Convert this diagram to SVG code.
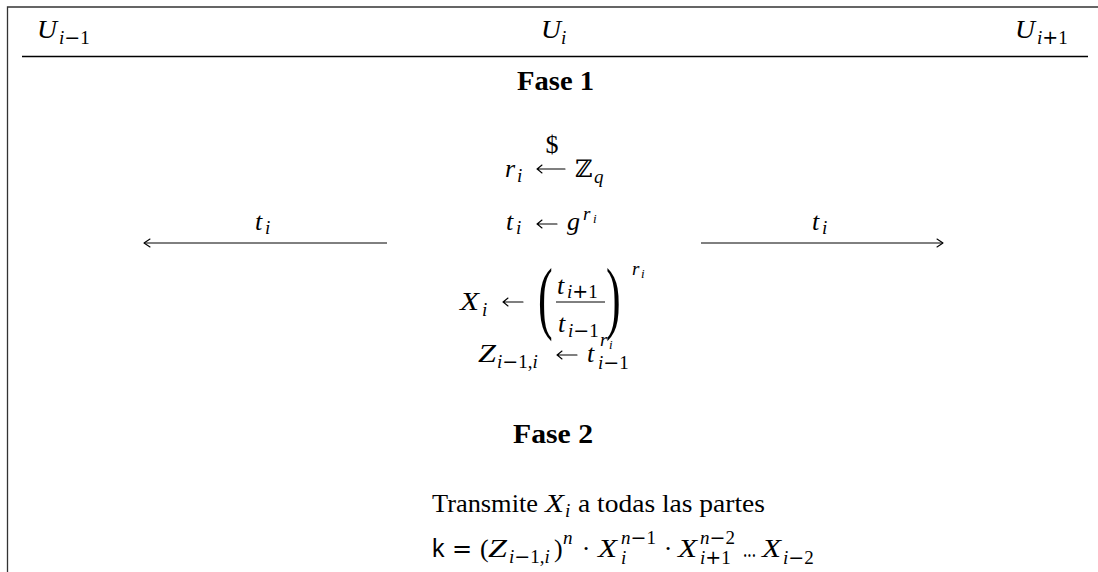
<svg xmlns="http://www.w3.org/2000/svg" width="1098" height="572" viewBox="0 0 1098 572">
<style>
text{fill:#000}
.m{font-family:"Liberation Serif",serif;font-style:italic;font-size:26px}
.s{font-size:19px}
.ss{font-size:13px}
.up{font-style:normal}
.op{font-family:"DejaVu Sans",sans-serif;font-style:normal}
.b{font-family:"Liberation Serif",serif;font-weight:bold;font-size:27px}
.t{font-family:"Liberation Serif",serif;font-size:25px}
.sf{font-family:"Liberation Sans",sans-serif;font-size:25px}
.frame{stroke:#333;stroke-width:1.3;fill:none}
.rule{stroke:#000;stroke-width:1.5}
.msg{stroke:#000;stroke-width:1;fill:none}
.arw{stroke:#000;stroke-width:1.1;fill:none;stroke-linecap:round;stroke-linejoin:round}
</style>
<defs>
<marker id="hd" viewBox="-8 -5 10 10" refX="0" refY="0" markerWidth="10" markerHeight="10" markerUnits="userSpaceOnUse" orient="auto">
<path d="M-6,-4 Q-1.5,-1 0,0 Q-1.5,1 -6,4" class="arw"/>
</marker>
</defs>
<g id="frame">
<path class="frame" d="M7.5,572 V7 H1098"/>
<line class="rule" x1="22" y1="56.5" x2="1088" y2="56.5"/>
</g>
<g id="header">
<g id="U_im1"><text class="m" x="37" y="38" textLength="20" lengthAdjust="spacingAndGlyphs">U</text><text class="m s" x="59" y="44">i<tspan class="op">−</tspan><tspan class="up">1</tspan></text></g>
<g id="U_i"><text class="m" x="541" y="38" textLength="20" lengthAdjust="spacingAndGlyphs">U</text><text class="m s" x="561" y="44">i</text></g>
<g id="U_ip1"><text class="m" x="1015" y="38" textLength="20" lengthAdjust="spacingAndGlyphs">U</text><text class="m s" x="1037" y="44">i<tspan class="op">+</tspan><tspan class="up">1</tspan></text></g>
</g>
<g id="fase1"><text class="b" x="517" y="90" textLength="77" lengthAdjust="spacingAndGlyphs">Fase 1</text></g>
<g id="step_r">
<text class="m" x="505" y="177">r</text><text class="m s" x="517" y="182">i</text>
<path class="arw" d="M565,169 H537 M542,165 Q538.5,168 537,169 Q538.5,170 542,173"/>
<text class="m up" x="552" y="153" font-size="15" text-anchor="middle">$</text>
<text x="575" y="177" font-family="DejaVu Serif,serif" font-size="24">ℤ</text><text class="m s" x="594" y="183">q</text>
</g>
<g id="step_t">
<text class="m" x="506" y="230">t</text><text class="m s" x="516" y="234">i</text>
<path class="arw" d="M557,224 H537 M542,220 Q538.5,223 537,224 Q538.5,225 542,228"/>
<text class="m" x="567" y="230">g</text><text class="m s" x="583" y="220">r</text><text class="m ss" x="593" y="223">i</text>
</g>
<g id="step_X">
<text class="m" x="460" y="310" textLength="19" lengthAdjust="spacingAndGlyphs">X</text><text class="m s" x="482" y="316">i</text>
<path class="arw" d="M523,302 H503 M508,298 Q504.5,301 503,302 Q504.5,303 508,306"/>
<text font-family="Liberation Serif,serif" font-size="80" transform="translate(538,324) scale(0.55,1)">(</text>
<text class="m" x="557" y="294">t</text><text class="m s" x="567" y="298">i<tspan class="op">+</tspan><tspan class="up">1</tspan></text>
<line x1="556" y1="302" x2="605" y2="302" stroke="#000" stroke-width="1"/>
<text class="m" x="558" y="332">t</text><text class="m s" x="568" y="337">i<tspan class="op">−</tspan><tspan class="up">1</tspan></text>
<text font-family="Liberation Serif,serif" font-size="80" transform="translate(606,324) scale(0.55,1)">)</text>
<text class="m s" x="632" y="275">r</text><text class="m ss" x="641" y="278">i</text>
</g>
<g id="step_Z">
<text class="m" x="478" y="362" textLength="18" lengthAdjust="spacingAndGlyphs">Z</text><text class="m s" x="497" y="368">i<tspan class="op">−</tspan><tspan class="up">1,</tspan>i</text>
<path class="arw" d="M577,355 H557 M562,351 Q558.5,354 557,355 Q558.5,356 562,359"/>
<text class="m" x="587" y="362">t</text><text class="m s" x="600" y="346">r</text><text class="m ss" x="609" y="349">i</text>
<text class="m s" x="598" y="369">i<tspan class="op">−</tspan><tspan class="up">1</tspan></text>
</g>
<g id="connectors">
<line class="msg" x1="387" y1="243" x2="144" y2="243" marker-end="url(#hd)"/>
<line class="msg" x1="701" y1="243" x2="943" y2="243" marker-end="url(#hd)"/>
<g id="lbl_left"><text class="m" x="255" y="230">t</text><text class="m s" x="265" y="234">i</text></g>
<g id="lbl_right"><text class="m" x="812" y="230">t</text><text class="m s" x="822" y="234">i</text></g>
</g>
<g id="fase2"><text class="b" x="513" y="443" textLength="80" lengthAdjust="spacingAndGlyphs">Fase 2</text></g>
<g id="broadcast">
<text class="t" x="432" y="512" textLength="106" lengthAdjust="spacingAndGlyphs">Transmite</text>
<text class="m" x="545" y="512" textLength="19" lengthAdjust="spacingAndGlyphs">X</text><text class="m s" x="565" y="517">i</text>
<text class="t" x="578" y="512" textLength="187" lengthAdjust="spacingAndGlyphs">a todas las partes</text>
</g>
<g id="key">
<text class="sf" x="432" y="557">k</text>
<text class="op" x="452" y="557" font-size="24">=</text>
<text class="m up" x="480" y="557">(</text>
<text class="m" x="488" y="557" textLength="19" lengthAdjust="spacingAndGlyphs">Z</text><text class="m s" x="509" y="563">i<tspan class="op">−</tspan><tspan class="up">1,</tspan>i</text>
<text class="m up" x="554" y="557">)</text>
<text class="m s" x="563" y="544">n</text>
<text class="m up" x="586" y="557" text-anchor="middle">·</text>
<text class="m" x="598" y="557" textLength="19" lengthAdjust="spacingAndGlyphs">X</text><text class="m s" x="621" y="544">n<tspan class="op">−</tspan><tspan class="up">1</tspan></text><text class="m s" x="621" y="564">i</text>
<text class="m up" x="668" y="557" text-anchor="middle">·</text>
<text class="m" x="678" y="557" textLength="19" lengthAdjust="spacingAndGlyphs">X</text><text class="m s" x="700" y="544">n<tspan class="op">−</tspan><tspan class="up">2</tspan></text><text class="m s" x="700" y="564">i<tspan class="op">+</tspan><tspan class="up">1</tspan></text>
<text class="m up" x="743" y="557" textLength="13" lengthAdjust="spacingAndGlyphs">...</text>
<text class="m" x="762" y="557" textLength="19" lengthAdjust="spacingAndGlyphs">X</text><text class="m s" x="783" y="564">i<tspan class="op">−</tspan><tspan class="up">2</tspan></text>
</g>
</svg>
